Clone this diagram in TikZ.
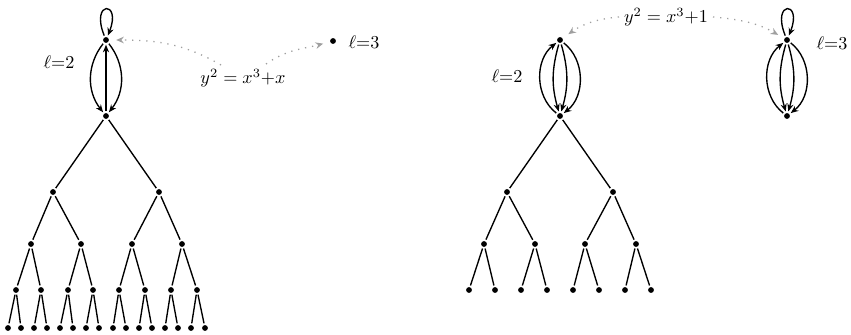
\documentclass[tikz,border=0pt]{standalone}
\usetikzlibrary{arrows.meta}
\begin{document}
\begin{tikzpicture}[x=0.55pt,y=-0.55pt,
  dot/.style={circle,fill=black,inner sep=0pt,minimum size=3.2pt,outer sep=1pt},
  tedge/.style={line width=0.75pt},
  arr/.style={line width=0.75pt,-{Stealth[length=4.2pt,width=3.4pt]}},
  note/.style={gray!75,line width=0.7pt,dash pattern=on 0.7pt off 3.2pt,-{Stealth[length=4.2pt,width=3.6pt]},shorten >=3pt},
  lbl/.style={inner sep=1pt}]
\useasboundingbox (0,0) rectangle (851,335);

% ---------- left graph ----------
\node[dot] (Lr) at (106,40) {};
\node[dot] (Ls) at (106,116) {};
\node[dot] (Liso) at (333,41) {};
\node[lbl] (Lell2) at (59,62) {$\ell{=}2$};
\node[lbl] (Lell3) at (364,42) {$\ell{=}3$};
\node[lbl] (Llab) at (243,78) {$y^2 = x^3{+}x$};

\draw[arr] (Lr) to[out=112,in=68,min distance=21pt] (Lr);
\draw[arr] (Lr) to[bend right=38] (Ls);
\draw[arr] (Lr) to[bend left=38] (Ls);
\draw[arr] (Ls) -- (Lr);

\coordinate (Lc1) at (221,65);
\coordinate (Lc2) at (266,64);
\draw[note] (Lc1) to[out=150,in=0] (Lr);
\draw[note] (Lc2) to[out=35,in=195] (Liso);

\foreach \x [count=\i] in {53,159} \node[dot] (L1-\i) at (\x,192) {};
\foreach \x [count=\i] in {31,81,132,182} \node[dot] (L2-\i) at (\x,244) {};
\foreach \x [count=\i] in {16,41,68,93,119,145,171,197} \node[dot] (L3-\i) at (\x,290) {};
\foreach \x [count=\i] in {8,21,34,47,60,73,86,99,113,126,139,152,165,178,191,205} \node[dot] (L4-\i) at (\x,328) {};

\foreach \i in {1,2} \draw[tedge] (Ls) -- (L1-\i);
\foreach \i in {1,...,4} {\pgfmathtruncatemacro\p{(\i+1)/2}\draw[tedge] (L1-\p) -- (L2-\i);}
\foreach \i in {1,...,8} {\pgfmathtruncatemacro\p{(\i+1)/2}\draw[tedge] (L2-\p) -- (L3-\i);}
\foreach \i in {1,...,16} {\pgfmathtruncatemacro\p{(\i+1)/2}\draw[tedge] (L3-\p) -- (L4-\i);}

% ---------- right graph ----------
\node[dot] (Rr) at (560,40) {};
\node[dot] (Rs) at (560,116) {};
\node[dot] (Qr) at (787,40) {};
\node[dot] (Qs) at (787,116) {};
\node[lbl] (Rell2) at (507,76) {$\ell{=}2$};
\node[lbl] (Rell3) at (832,43) {$\ell{=}3$};
\node[lbl] (Rlab) at (666,17) {$y^2 = x^3{+}1$};

\draw[arr] (Rs) to[bend left=52] (Rr);
\draw[arr] (Rr) to[bend right=16] (Rs);
\draw[arr] (Rr) to[bend left=16] (Rs);
\draw[arr] (Rr) to[bend left=52] (Rs);

\draw[arr] (Qr) to[out=112,in=68,min distance=21pt] (Qr);
\draw[arr] (Qs) to[bend left=52] (Qr);
\draw[arr] (Qr) to[bend right=16] (Qs);
\draw[arr] (Qr) to[bend left=16] (Qs);
\draw[arr] (Qr) to[bend left=52] (Qs);

\coordinate (Rc1) at (619,17);
\coordinate (Rc2) at (713,17);
\draw[note] (Rc1) to[out=185,in=35] (Rr);
\draw[note] (Rc2) to[out=-5,in=150] (Qr);

\foreach \x [count=\i] in {507,613} \node[dot] (R1-\i) at (\x,192) {};
\foreach \x [count=\i] in {484,535,585,636} \node[dot] (R2-\i) at (\x,244) {};
\foreach \x [count=\i] in {469,495,521,547,573,599,625,651} \node[dot] (R3-\i) at (\x,290) {};

\foreach \i in {1,2} \draw[tedge] (Rs) -- (R1-\i);
\foreach \i in {1,...,4} {\pgfmathtruncatemacro\p{(\i+1)/2}\draw[tedge] (R1-\p) -- (R2-\i);}
\foreach \i in {1,...,8} {\pgfmathtruncatemacro\p{(\i+1)/2}\draw[tedge] (R2-\p) -- (R3-\i);}
\end{tikzpicture}
\end{document}
